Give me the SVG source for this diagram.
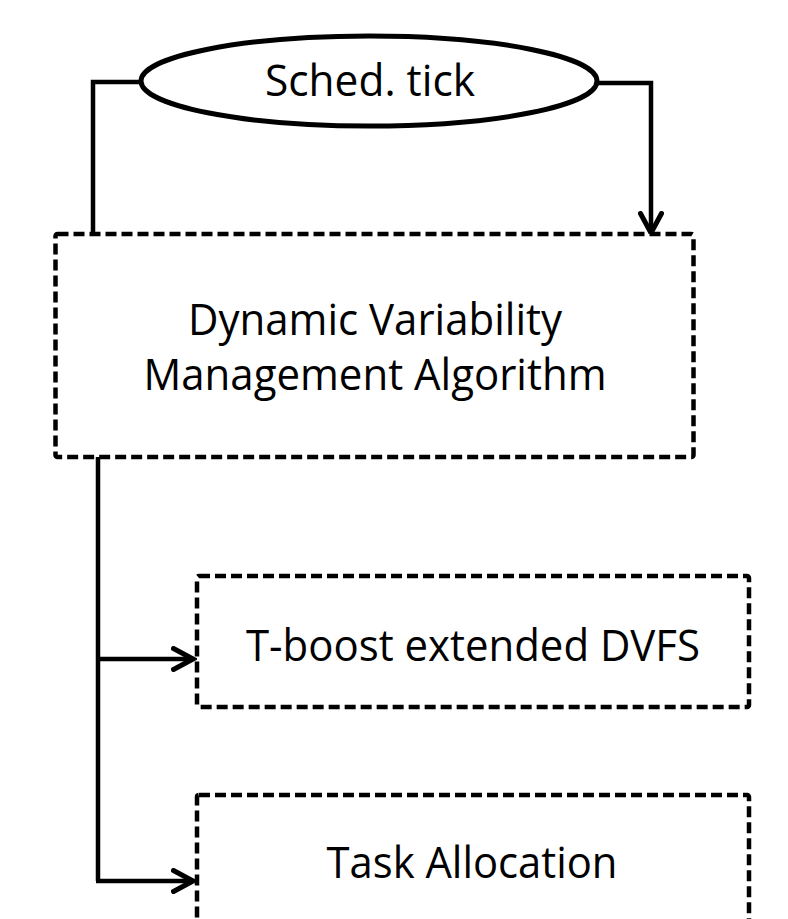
<svg xmlns="http://www.w3.org/2000/svg" width="788" height="919" viewBox="0 0 788 919">
  <style>
    .lbl { font-family: "Open Sans", "Liberation Sans", sans-serif; font-size: 44px; fill: #000; text-anchor: middle; }
    .box { fill: #fff; stroke: #000; stroke-width: 4.5; stroke-dasharray: 11 5; stroke-linejoin: round; }
    .wire { fill: none; stroke: #000; stroke-width: 4.5; stroke-linejoin: miter; }
  </style>
  <defs>
    <marker id="chev" viewBox="0 0 26 26" refX="22" refY="13" markerWidth="26" markerHeight="26" markerUnits="userSpaceOnUse" orient="auto">
      <polyline points="2.5,2.5 22,13 2.5,23.5" fill="none" stroke="#000" stroke-width="5" stroke-linecap="round" stroke-linejoin="miter"/>
    </marker>
  </defs>
  <rect width="788" height="919" fill="#fff"/>

  <g id="connectors">
    <polyline class="wire" points="141,82 93,82 93,234"/>
    <polyline class="wire" points="597,83 651,83 651,233" marker-end="url(#chev)"/>
    <polyline class="wire" points="98,457 98,881"/>
    <line class="wire" x1="98" y1="659" x2="193" y2="659" marker-end="url(#chev)"/>
    <line class="wire" x1="96" y1="881" x2="193" y2="881" marker-end="url(#chev)"/>
  </g>

  <g id="sched-tick">
    <ellipse cx="369" cy="81" rx="228" ry="45" fill="#fff" stroke="#000" stroke-width="5"/>
    <text class="lbl" x="370" y="96" textLength="210" lengthAdjust="spacingAndGlyphs">Sched. tick</text>
  </g>

  <g id="dvm-algorithm">
    <rect class="box" x="55.5" y="234" width="638" height="223" rx="2"/>
    <text class="lbl" x="375" y="335" textLength="374" lengthAdjust="spacingAndGlyphs">Dynamic Variability</text>
    <text class="lbl" x="375" y="390" textLength="463" lengthAdjust="spacingAndGlyphs">Management Algorithm</text>
  </g>

  <g id="tboost-dvfs">
    <rect class="box" x="197" y="576" width="552" height="131" rx="2"/>
    <text class="lbl" x="473" y="661" textLength="454" lengthAdjust="spacingAndGlyphs">T-boost extended DVFS</text>
  </g>

  <g id="task-allocation">
    <rect class="box" x="197" y="795" width="552" height="160" rx="2"/>
    <text class="lbl" x="472" y="878" textLength="291" lengthAdjust="spacingAndGlyphs">Task Allocation</text>
  </g>
</svg>
